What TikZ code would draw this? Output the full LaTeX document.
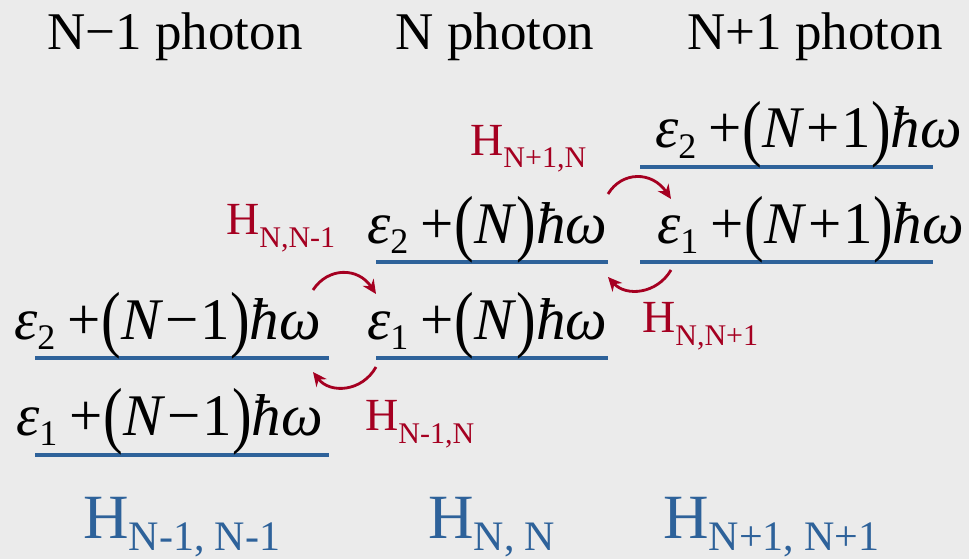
\documentclass[tikz,border=0pt]{standalone}
\usepackage{fontspec}
\setmainfont{Liberation Serif}
\usetikzlibrary{arrows.meta}
\definecolor{bg}{RGB}{235,235,235}
\definecolor{lvlblue}{RGB}{46,98,154}
\definecolor{hred}{RGB}{165,0,33}
\newcommand{\bp}[1]{\raisebox{-4pt}{\scalebox{1}[1.25]{#1}}}
\newcommand{\en}[2]{\fontsize{59}{66}\selectfont\textit{ε}\raisebox{-10pt}{\fontsize{36}{40}\selectfont #1}\hspace{12pt}+\hspace{1pt}\bp{(}\textit{N}#2\bp{)}\textit{ħω}}
\newcommand{\hr}[1]{\fontsize{46}{50}\selectfont H\raisebox{-13pt}{\fontsize{30}{34}\selectfont #1}}
\newcommand{\hb}[1]{\fontsize{63}{70}\selectfont H\raisebox{-12pt}{\fontsize{42}{46}\selectfont #1}}
\tikzset{
  lvl/.style={line width=4pt, draw=lvlblue},
  etxt/.style={anchor=base west, inner sep=0pt, text=black},
  hlab/.style={anchor=base west, inner sep=0pt, text=hred},
  blab/.style={anchor=base west, inner sep=0pt, text=lvlblue},
  ttl/.style={anchor=base, inner sep=0pt, font=\fontsize{53}{60}\selectfont},
  harrow/.style={draw=hred, line width=2.8pt, -{Stealth[length=14pt,width=13pt]}}
}
\begin{document}
\begin{tikzpicture}[x=1pt,y=-1pt]
\fill[bg] (0,0) rectangle (969,559);
\useasboundingbox (0,0) rectangle (969,559);
% titles
\node[ttl] (t1) at (175,50) {N−1 photon};
\node[ttl] (t2) at (495,50) {N photon};
\node[ttl] (t3) at (815,50) {N+1 photon};
% level lines
\coordinate (a2l) at (35,358); \coordinate (a2r) at (329,358);
\coordinate (a1l) at (35,455); \coordinate (a1r) at (329,455);
\coordinate (b2l) at (376,262); \coordinate (b2r) at (608,262);
\coordinate (b1l) at (376,358); \coordinate (b1r) at (608,358);
\coordinate (c2l) at (640,167); \coordinate (c2r) at (933,167);
\coordinate (c1l) at (640,262); \coordinate (c1r) at (933,262);
\draw[lvl] (a2l) -- (a2r);
\draw[lvl] (a1l) -- (a1r);
\draw[lvl] (b2l) -- (b2r);
\draw[lvl] (b1l) -- (b1r);
\draw[lvl] (c2l) -- (c2r);
\draw[lvl] (c1l) -- (c1r);
% energies
\node[etxt] (ea2) at (14,339) {\en{2}{\hspace{2pt}−\hspace{2pt}1}};
\node[etxt] (ea1) at (16,435) {\en{1}{\hspace{2pt}−\hspace{2pt}1}};
\node[etxt] (eb2) at (367,243) {\en{2}{}};
\node[etxt] (eb1) at (367,339) {\en{1}{}};
\node[etxt] (ec2) at (655,148) {\en{2}{\hspace{2pt}+\hspace{2pt}1}};
\node[etxt] (ec1) at (657,243) {\en{1}{\hspace{2pt}+\hspace{2pt}1}};
% coupling labels
\node[hlab] (h1) at (470,155) {\hr{N+1,N}};
\node[hlab] (h2) at (226,234) {\hr{N,N-1}};
\node[hlab] (h3) at (642,332) {\hr{N,N+1}};
\node[hlab] (h4) at (365,430) {\hr{N-1,N}};
% arrows
\coordinate (p1s) at (313,290); \coordinate (p1e) at (376,294);
\coordinate (p2s) at (376,367); \coordinate (p2e) at (313,372);
\coordinate (p3s) at (608,194); \coordinate (p3e) at (671,199);
\coordinate (p4s) at (671,270); \coordinate (p4e) at (608,277);
\draw[harrow] (p1s) .. controls (328,267) and (358,267) .. (p1e);
\draw[harrow] (p2s) .. controls (362,392) and (330,394) .. (p2e);
\draw[harrow] (p3s) .. controls (622,171) and (652,171) .. (p3e);
\draw[harrow] (p4s) .. controls (657,294) and (626,297) .. (p4e);
% block labels
\node[blab] (B1) at (83,538) {\hb{N-1, N-1}};
\node[blab] (B2) at (428,538) {\hb{N, N}};
\node[blab] (B3) at (663,538) {\hb{N+1, N+1}};
\end{tikzpicture}
\end{document}
